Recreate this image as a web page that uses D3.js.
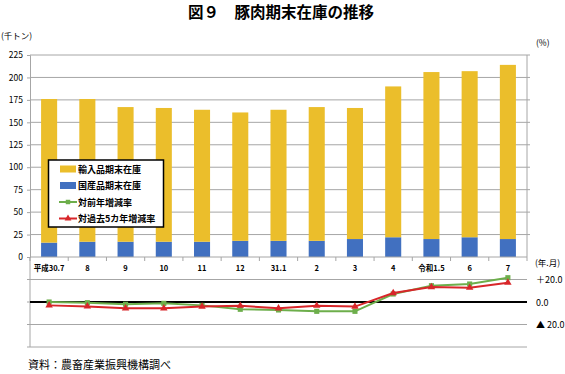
<html>
<script src='https://d3js.org/d3.v7.min.js'></script>
<style>
body { margin: 0; background: #fff; }
text { font-family: "Noto Sans CJK JP", "Noto Sans", sans-serif; fill: #000; }
</style>
<body onload='init()'>
<svg width=565 height=374></svg>
<script>
const months = ["平成30.7", "8", "9", "10", "11", "12", "31.1", "2", "3", "4", "令和1.5", "6", "7"];
const domestic = [16, 17, 17, 17, 17, 18, 18, 18, 20, 22, 20, 22, 20];
const imported = [160, 159, 150, 149, 147, 143, 146, 149, 146, 168, 186, 185, 194];
const yoyRate = [0, -0.6, -2, -1.2, -3, -6.5, -7.1, -8.3, -8.3, 7.1, 14.5, 16, 21.6];
const fiveYearRate = [-3, -3.9, -5.6, -5.6, -4.1, -3.3, -5.6, -3.3, -4.1, 8, 13.3, 12.7, 17.2];
const stockTicks = [0, 25, 50, 75, 100, 125, 150, 175, 200, 225];
const rateTicks = [20, 0, -20];
const rateLabels = ["＋20.0", "0.0", "▲ 20.0"];

const colors = { imported: "#EBBE2B", domestic: "#4170C0", yoy: "#6DAE4B", five: "#D8262A" };

function init() {
    const svg = d3.select("svg");
    const left = 30, right = 527;

    svg.append("text").attr("x", 281).attr("y", 18).attr("text-anchor", "middle")
        .style("font-size", "15.5px").style("font-weight", "bold").text("図９　豚肉期末在庫の推移");
    svg.append("text").attr("x", 1).attr("y", 39).style("font-size", "8.5px").text("(千トン)");
    svg.append("text").attr("x", 536).attr("y", 46).style("font-size", "8.5px").text("(%)");

    const x = d3.scaleBand().domain(months).range([left, right]).paddingInner(0.58).paddingOuter(0.29);
    const xp = d3.scalePoint().domain(months).range([left, right]).padding(0.5);
    const y = d3.scaleLinear().domain([0, 225]).range([257, 55]);
    const y2 = d3.scaleLinear().domain([-40, 40]).range([347, 257]);

    // gridlines top
    svg.append("g").selectAll("line").data(stockTicks.filter(d => d > 0)).enter().append("line")
        .attr("x1", left).attr("x2", right + 3).attr("y1", d => y(d)).attr("y2", d => y(d))
        .attr("stroke", "#a6a6a6").attr("stroke-width", 1);

    // bars
    const rows = months.map((m, i) => ({ m, dom: domestic[i], imp: imported[i] }));
    svg.append("g").selectAll("rect").data(rows).enter().append("rect")
        .attr("x", d => x(d.m)).attr("width", x.bandwidth())
        .attr("y", d => y(d.dom)).attr("height", d => y(0) - y(d.dom))
        .attr("fill", colors.domestic);
    svg.append("g").selectAll("rect").data(rows).enter().append("rect")
        .attr("x", d => x(d.m)).attr("width", x.bandwidth())
        .attr("y", d => y(d.dom + d.imp)).attr("height", d => y(d.dom) - y(d.dom + d.imp))
        .attr("fill", colors.imported);

    // left axis
    const yAxis = svg.append("g").attr("transform", `translate(${left},0)`)
        .call(d3.axisLeft(y).tickValues(stockTicks).tickSize(3).tickPadding(4));
    yAxis.selectAll("path, line").attr("stroke", "#a6a6a6");
    yAxis.selectAll("text").style("font-size", "8.5px").style("font-family", "'Noto Sans CJK JP'");
    // right axis line
    svg.append("line").attr("x1", right).attr("x2", right).attr("y1", 55).attr("y2", 257)
        .attr("stroke", "#a6a6a6");

    // category tick marks below baseline
    const bounds = d3.range(months.length + 1).map(i => left + i * x.step());
    svg.append("g").selectAll("line").data(bounds).enter().append("line")
        .attr("x1", d => d).attr("x2", d => d).attr("y1", 257).attr("y2", 261)
        .attr("stroke", "#a6a6a6");
    svg.append("line").attr("x1", left).attr("x2", right).attr("y1", 257).attr("y2", 257)
        .attr("stroke", "#a6a6a6");

    // category labels
    svg.append("g").selectAll("text").data(months).enter().append("text")
        .attr("x", d => xp(d)).attr("y", 271).attr("text-anchor", "middle")
        .style("font-size", "7.5px").style("font-weight", "bold").text(d => d);
    svg.append("text").attr("x", 535).attr("y", 266).style("font-size", "8.5px").text("(年.月)");

    // bottom panel grid
    svg.append("g").selectAll("line").data([20, -20, -40]).enter().append("line")
        .attr("x1", left - 3).attr("x2", right).attr("y1", d => y2(d)).attr("y2", d => y2(d))
        .attr("stroke", "#a6a6a6");
    svg.append("line").attr("x1", left).attr("x2", left).attr("y1", 257).attr("y2", 347)
        .attr("stroke", "#a6a6a6");
    svg.append("line").attr("x1", left - 3).attr("x2", left).attr("y1", y2(0)).attr("y2", y2(0))
        .attr("stroke", "#a6a6a6");
    svg.append("line").attr("x1", left).attr("x2", right).attr("y1", y2(0)).attr("y2", y2(0))
        .attr("stroke", "#000").attr("stroke-width", 2);

    svg.append("g").selectAll("text").data(rateTicks).enter().append("text")
        .attr("x", 536).attr("y", d => y2(d) + 3.5)
        .style("font-size", "9px").text((d, i) => rateLabels[i]);

    // lines
    const line = d3.line().x((d, i) => xp(months[i])).y(d => y2(d));
    const series = [
        { vals: yoyRate, color: colors.yoy, shape: d3.symbolSquare, size: 26 },
        { vals: fiveYearRate, color: colors.five, shape: d3.symbolTriangle, size: 24 }
    ];
    series.forEach(s => {
        svg.append("path").datum(s.vals).attr("d", line)
            .attr("fill", "none").attr("stroke", s.color).attr("stroke-width", 2);
        svg.append("g").selectAll("path").data(s.vals).enter().append("path")
            .attr("d", d3.symbol().type(s.shape).size(s.size))
            .attr("transform", (d, i) => `translate(${xp(months[i])},${y2(d)})`)
            .attr("fill", s.color);
    });

    // legend
    const lg = svg.append("g");
    lg.append("rect").attr("x", 48.5).attr("y", 160).attr("width", 115).attr("height", 67)
        .attr("fill", "#fff").attr("stroke", "#000").attr("stroke-width", 1.5);
    const items = [
        { label: "輸入品期末在庫", type: "bar", color: colors.imported },
        { label: "国産品期末在庫", type: "bar", color: colors.domestic },
        { label: "対前年増減率", type: "line", color: colors.yoy, shape: d3.symbolSquare },
        { label: "対過去5カ年増減率", type: "line", color: colors.five, shape: d3.symbolTriangle }
    ];
    items.forEach((it, i) => {
        const cy = 169 + i * 16.5;
        if (it.type === "bar") {
            lg.append("rect").attr("x", 60).attr("y", cy - 3.5).attr("width", 16).attr("height", 7).attr("fill", it.color);
        } else {
            lg.append("line").attr("x1", 59).attr("x2", 77).attr("y1", cy).attr("y2", cy)
                .attr("stroke", it.color).attr("stroke-width", 2);
            lg.append("path").attr("d", d3.symbol().type(it.shape).size(20))
                .attr("transform", `translate(68,${cy})`).attr("fill", it.color);
        }
        lg.append("text").attr("x", 78).attr("y", cy + 3.5).style("font-size", "9px")
            .style("font-weight", "bold").text(it.label);
    });

    svg.append("text").attr("x", 28).attr("y", 369).style("font-size", "11px").text("資料：農畜産業振興機構調べ");
}
</script>
</body>
</html>
